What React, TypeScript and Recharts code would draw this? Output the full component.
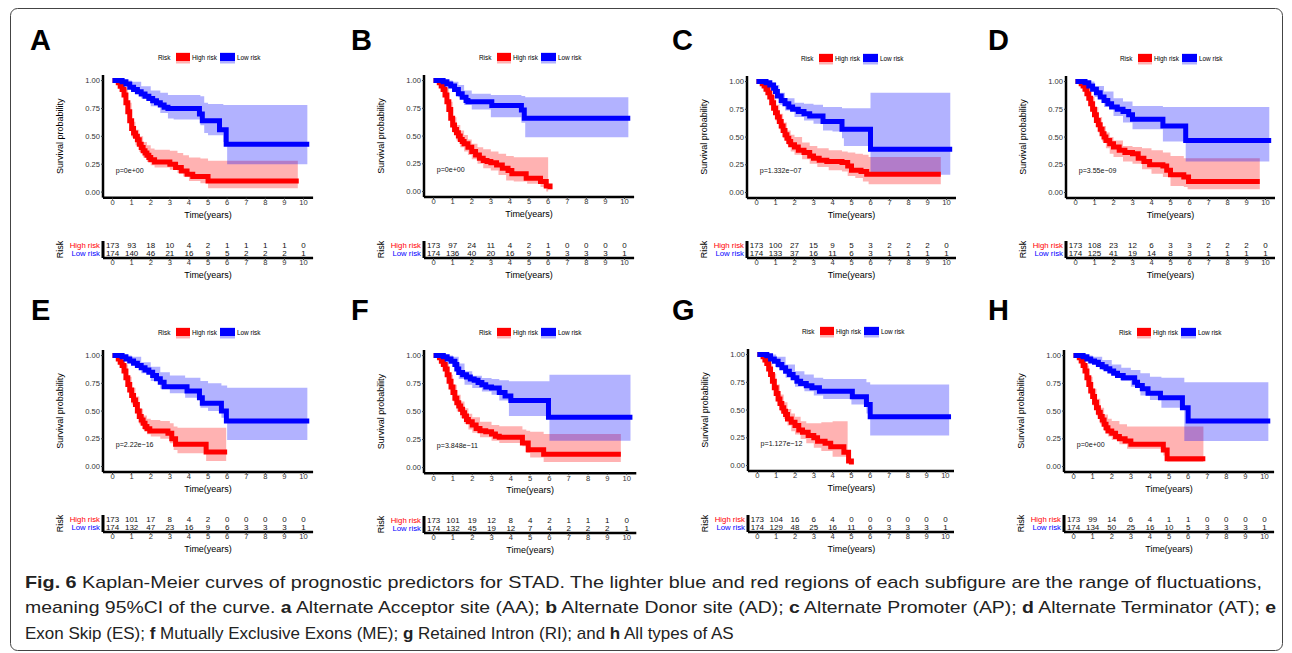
import React from 'react';
import { ComposedChart, Line, Area, XAxis, YAxis, Scatter, ReferenceDot } from 'recharts';

const years = [0, 1, 2, 3, 4, 5, 6, 7, 8, 9, 10];
const survTicks = [0, 0.25, 0.5, 0.75, 1];
const riskGroups = ['High risk', 'Low risk'];
const panelIds = ['A', 'B', 'C', 'D', 'E', 'F', 'G', 'H'];
const pValues = ['p=0e+00', 'p=0e+00', 'p=1.332e\u221207', 'p=3.55e\u221209', 'p=2.22e\u221216', 'p=3.848e\u221211', 'p=1.127e\u221212', 'p=0e+00'];

// survival curves: [time, survival]; bands: [time, lower, upper]
const aHigh = [[0,1],[0.2,1],[0.3,0.98],[0.4,0.95],[0.5,0.92],[0.6,0.87],[0.7,0.8],[0.8,0.72],[0.9,0.64],[1.0,0.57],[1.1,0.53],[1.2,0.5],[1.3,0.47],[1.4,0.43],[1.5,0.4],[1.6,0.37],[1.7,0.35],[1.8,0.33],[1.9,0.31],[2.0,0.29],[2.2,0.27],[3.0,0.25],[3.3,0.22],[3.6,0.19],[3.9,0.16],[4.2,0.14],[5.0,0.1],[9.75,0.1]];
const aHighCI = [[0,1,1],[0.2,0.98,1],[0.4,0.91,0.99],[0.6,0.82,0.93],[0.8,0.65,0.8],[1.0,0.49,0.63],[1.2,0.42,0.56],[1.4,0.36,0.5],[1.6,0.31,0.45],[1.8,0.27,0.42],[2.0,0.24,0.39],[2.2,0.22,0.38],[3.0,0.2,0.37],[3.4,0.17,0.35],[3.7,0.14,0.33],[4.0,0.1,0.31],[4.6,0.08,0.3],[5.0,0.035,0.28],[9.7,0.035,0.28]];
const aLow = [[0,1],[0.4,1],[0.5,0.99],[0.7,0.97],[0.9,0.94],[1.1,0.92],[1.3,0.9],[1.5,0.88],[1.7,0.86],[1.9,0.84],[2.1,0.82],[2.3,0.8],[2.5,0.78],[2.7,0.76],[2.9,0.75],[4.55,0.7],[4.7,0.64],[5.6,0.56],[5.95,0.43],[10.3,0.43]];
const aLowCI = [[0,1,1],[0.5,0.98,1],[1.0,0.9,0.99],[1.5,0.84,0.95],[2.0,0.77,0.91],[2.5,0.71,0.89],[2.9,0.66,0.87],[3.2,0.65,0.87],[4.6,0.6,0.86],[4.8,0.53,0.8],[5.0,0.51,0.79],[5.8,0.45,0.78],[6.0,0.25,0.78],[10.2,0.25,0.78]];
const aRiskHigh = [173, 93, 18, 10, 4, 2, 1, 1, 1, 1, 0];
const aRiskLow = [174, 140, 46, 21, 16, 9, 5, 2, 2, 2, 1];

const bHigh = [[0,1],[0.2,1],[0.3,0.98],[0.4,0.95],[0.5,0.92],[0.6,0.87],[0.7,0.81],[0.8,0.74],[0.9,0.66],[1.0,0.6],[1.1,0.56],[1.2,0.53],[1.3,0.5],[1.4,0.47],[1.5,0.45],[1.6,0.43],[1.8,0.4],[2.0,0.36],[2.2,0.33],[2.4,0.3],[2.6,0.28],[2.8,0.27],[3.0,0.26],[3.3,0.24],[3.6,0.21],[3.9,0.19],[4.1,0.16],[4.85,0.12],[5.6,0.09],[5.9,0.05],[6.1,0.02]];
const bHighCI = [[0,1,1],[0.2,0.98,1],[0.4,0.91,0.99],[0.6,0.82,0.93],[0.8,0.67,0.81],[1.0,0.53,0.67],[1.2,0.46,0.6],[1.4,0.4,0.55],[1.6,0.36,0.51],[1.8,0.33,0.47],[2.0,0.29,0.43],[2.3,0.25,0.4],[2.6,0.21,0.38],[3.0,0.19,0.36],[3.4,0.15,0.34],[3.8,0.1,0.32],[4.2,0.09,0.31],[4.9,0.07,0.31],[5.6,0.04,0.31],[5.9,0.0,0.31],[6.0,0.0,0.31]];
const bLow = [[0,1],[0.4,1],[0.5,0.99],[0.7,0.97],[0.9,0.95],[1.1,0.92],[1.3,0.88],[1.5,0.85],[1.7,0.82],[1.8,0.81],[3.05,0.775],[4.6,0.735],[4.75,0.66],[10.3,0.66]];
const bLowCI = [[0,1,1],[0.5,0.98,1],[1.0,0.91,0.99],[1.3,0.85,0.96],[1.6,0.78,0.91],[2.0,0.74,0.88],[3.0,0.67,0.87],[4.6,0.62,0.86],[4.8,0.49,0.85],[10.2,0.49,0.85]];
const bRiskHigh = [173, 97, 24, 11, 4, 2, 1, 0, 0, 0, 0];
const bRiskLow = [174, 136, 40, 20, 16, 9, 5, 3, 3, 3, 1];

const cHigh = [[0,1],[0.2,1],[0.3,0.98],[0.4,0.96],[0.5,0.93],[0.6,0.9],[0.7,0.86],[0.8,0.81],[0.9,0.76],[1.0,0.72],[1.1,0.68],[1.2,0.64],[1.3,0.6],[1.4,0.56],[1.5,0.52],[1.6,0.49],[1.7,0.46],[1.8,0.43],[2.0,0.41],[2.2,0.38],[2.5,0.36],[2.8,0.33],[3.0,0.31],[3.3,0.29],[3.7,0.28],[4.5,0.27],[4.8,0.24],[5.0,0.2],[5.5,0.19],[5.8,0.165],[9.7,0.165]];
const cHighCI = [[0,1,1],[0.2,0.98,1],[0.4,0.93,0.99],[0.6,0.86,0.95],[0.8,0.75,0.87],[1.0,0.65,0.79],[1.2,0.57,0.71],[1.4,0.49,0.63],[1.6,0.43,0.56],[1.8,0.37,0.52],[2.0,0.34,0.5],[2.4,0.3,0.45],[2.8,0.26,0.42],[3.2,0.23,0.4],[3.8,0.2,0.38],[4.5,0.19,0.37],[4.8,0.15,0.36],[5.2,0.13,0.35],[5.6,0.1,0.34],[5.9,0.075,0.32],[9.7,0.075,0.32]];
const cLow = [[0,1],[0.4,1],[0.5,0.99],[0.7,0.97],[0.9,0.94],[1.0,0.91],[1.1,0.87],[1.3,0.83],[1.5,0.8],[1.7,0.77],[1.9,0.75],[2.2,0.73],[2.5,0.71],[2.8,0.69],[3.5,0.64],[4.5,0.57],[6.0,0.39],[10.3,0.39]];
const cLowCI = [[0,1,1],[0.5,0.98,1],[0.8,0.93,0.99],[1.0,0.86,0.97],[1.2,0.79,0.9],[1.5,0.74,0.85],[2.0,0.68,0.81],[2.5,0.65,0.8],[3.0,0.62,0.79],[3.5,0.56,0.77],[4.0,0.55,0.77],[4.5,0.49,0.76],[4.6,0.42,0.76],[6.0,0.16,0.9],[10.2,0.16,0.9]];
const cRiskHigh = [173, 100, 27, 15, 9, 5, 3, 2, 2, 2, 0];
const cRiskLow = [174, 133, 37, 16, 11, 6, 3, 1, 1, 1, 1];

const dHigh = [[0,1],[0.2,1],[0.3,0.98],[0.4,0.96],[0.5,0.93],[0.6,0.89],[0.7,0.85],[0.8,0.8],[0.9,0.75],[1.0,0.7],[1.1,0.65],[1.2,0.61],[1.3,0.57],[1.4,0.53],[1.5,0.5],[1.6,0.47],[1.8,0.44],[2.0,0.41],[2.3,0.38],[2.6,0.36],[3.0,0.35],[3.3,0.31],[3.6,0.28],[3.9,0.25],[4.6,0.24],[4.8,0.2],[5.0,0.16],[5.7,0.14],[5.95,0.1],[9.7,0.1]];
const dHighCI = [[0,1,1],[0.2,0.98,1],[0.4,0.93,0.99],[0.6,0.85,0.94],[0.8,0.73,0.86],[1.0,0.63,0.77],[1.2,0.54,0.68],[1.4,0.46,0.6],[1.6,0.4,0.54],[1.8,0.35,0.5],[2.0,0.32,0.47],[2.5,0.28,0.42],[3.0,0.26,0.41],[3.5,0.21,0.4],[4.0,0.17,0.38],[4.6,0.14,0.36],[5.0,0.06,0.33],[5.7,0.05,0.31],[5.9,0.03,0.31],[9.7,0.03,0.31]];
const dLow = [[0,1],[0.4,1],[0.5,0.99],[0.7,0.96],[0.9,0.93],[1.1,0.9],[1.3,0.86],[1.5,0.83],[1.7,0.8],[1.9,0.77],[2.2,0.75],[2.5,0.73],[2.8,0.7],[3.0,0.66],[4.6,0.6],[5.8,0.47],[10.3,0.47]];
const dLowCI = [[0,1,1],[0.5,0.98,1],[1.0,0.86,0.96],[1.5,0.77,0.91],[2.0,0.69,0.85],[2.5,0.63,0.82],[3.0,0.57,0.78],[4.6,0.46,0.77],[5.8,0.28,0.77],[10.2,0.28,0.77]];
const dRiskHigh = [173, 108, 23, 12, 6, 3, 3, 2, 2, 2, 0];
const dRiskLow = [174, 125, 41, 19, 14, 8, 3, 1, 1, 1, 1];

const eHigh = [[0,1],[0.2,1],[0.3,0.97],[0.4,0.94],[0.5,0.91],[0.6,0.86],[0.7,0.8],[0.8,0.74],[0.9,0.69],[1.0,0.64],[1.1,0.6],[1.2,0.56],[1.3,0.5],[1.4,0.45],[1.5,0.42],[1.6,0.39],[1.7,0.36],[1.8,0.34],[1.95,0.32],[2.9,0.3],[3.1,0.25],[3.3,0.2],[4.9,0.13],[6.0,0.13]];
const eHighCI = [[0,1,1],[0.2,0.98,1],[0.4,0.9,0.98],[0.6,0.8,0.92],[0.8,0.67,0.81],[1.0,0.56,0.71],[1.2,0.48,0.63],[1.4,0.38,0.52],[1.6,0.33,0.46],[1.8,0.29,0.43],[2.0,0.27,0.42],[2.5,0.25,0.41],[3.0,0.21,0.39],[3.2,0.15,0.36],[3.4,0.12,0.35],[4.9,0.05,0.35],[5.95,0.05,0.35]];
const eLow = [[0,1],[0.4,1],[0.5,0.99],[0.7,0.97],[0.9,0.95],[1.1,0.93],[1.3,0.91],[1.5,0.89],[1.7,0.87],[1.9,0.85],[2.1,0.82],[2.3,0.79],[2.5,0.76],[2.7,0.72],[3.9,0.68],[4.55,0.62],[4.7,0.57],[5.7,0.5],[5.96,0.41],[10.3,0.41]];
const eLowCI = [[0,1,1],[0.5,0.98,1],[1.0,0.92,0.99],[1.5,0.84,0.94],[2.0,0.77,0.9],[2.5,0.7,0.85],[3.0,0.66,0.82],[3.8,0.62,0.8],[4.6,0.53,0.77],[5.0,0.5,0.75],[5.7,0.44,0.73],[6.0,0.24,0.71],[10.2,0.24,0.71]];
const eRiskHigh = [173, 101, 17, 8, 4, 2, 0, 0, 0, 0, 0];
const eRiskLow = [174, 132, 47, 23, 16, 9, 6, 3, 3, 3, 1];

const fHigh = [[0,1],[0.2,1],[0.3,0.98],[0.4,0.95],[0.5,0.92],[0.6,0.88],[0.7,0.83],[0.8,0.77],[0.9,0.72],[1.0,0.67],[1.1,0.62],[1.2,0.58],[1.3,0.55],[1.4,0.52],[1.5,0.49],[1.6,0.46],[1.7,0.43],[1.8,0.41],[2.0,0.38],[2.2,0.35],[2.4,0.33],[2.7,0.32],[3.0,0.3],[3.2,0.28],[3.4,0.27],[4.6,0.22],[4.9,0.16],[5.7,0.12],[9.7,0.12]];
const fHighCI = [[0,1,1],[0.2,0.98,1],[0.4,0.91,0.99],[0.6,0.83,0.93],[0.8,0.7,0.83],[1.0,0.59,0.74],[1.2,0.5,0.65],[1.4,0.44,0.59],[1.6,0.39,0.53],[1.8,0.34,0.48],[2.0,0.31,0.45],[2.4,0.27,0.41],[3.0,0.24,0.38],[3.4,0.22,0.37],[4.6,0.19,0.34],[4.8,0.13,0.33],[5.0,0.09,0.32],[5.7,0.05,0.3],[9.7,0.05,0.3]];
const fLow = [[0,1],[0.4,1],[0.5,0.99],[0.7,0.97],[0.9,0.95],[1.1,0.92],[1.2,0.88],[1.3,0.85],[1.5,0.83],[1.7,0.81],[1.9,0.79],[2.1,0.78],[2.3,0.76],[2.5,0.74],[2.7,0.72],[3.0,0.71],[3.4,0.67],[3.7,0.64],[4.0,0.6],[5.95,0.45],[10.3,0.45]];
const fLowCI = [[0,1,1],[0.5,0.98,1],[1.0,0.9,0.99],[1.3,0.79,0.93],[1.6,0.74,0.86],[2.0,0.71,0.82],[2.5,0.68,0.8],[3.0,0.65,0.79],[3.4,0.6,0.78],[3.9,0.46,0.77],[6.0,0.24,0.83],[10.2,0.24,0.83]];
const fRiskHigh = [173, 101, 19, 12, 8, 4, 2, 1, 1, 1, 0];
const fRiskLow = [174, 132, 45, 19, 12, 7, 4, 2, 2, 2, 1];

const gHigh = [[0,1],[0.2,1],[0.3,0.98],[0.4,0.95],[0.5,0.92],[0.6,0.87],[0.7,0.82],[0.8,0.76],[0.9,0.7],[1.0,0.65],[1.1,0.6],[1.2,0.56],[1.3,0.52],[1.4,0.49],[1.5,0.46],[1.6,0.42],[1.8,0.39],[2.0,0.36],[2.2,0.32],[2.4,0.3],[2.7,0.27],[3.0,0.25],[3.2,0.22],[3.6,0.2],[3.9,0.17],[4.6,0.12],[4.85,0.04],[5.0,0.01]];
const gHighCI = [[0,1,1],[0.2,0.98,1],[0.4,0.9,0.98],[0.6,0.81,0.92],[0.8,0.68,0.83],[1.0,0.58,0.73],[1.2,0.49,0.64],[1.4,0.42,0.57],[1.6,0.36,0.51],[1.8,0.31,0.47],[2.0,0.28,0.44],[2.3,0.24,0.4],[2.6,0.2,0.38],[3.0,0.16,0.38],[3.4,0.13,0.39],[4.0,0.08,0.4],[4.8,0.08,0.4]];
const gLow = [[0,1],[0.4,1],[0.5,0.99],[0.7,0.96],[0.9,0.94],[1.1,0.91],[1.3,0.88],[1.5,0.85],[1.7,0.82],[1.9,0.79],[2.1,0.76],[2.3,0.74],[2.6,0.72],[2.9,0.7],[3.3,0.67],[5.05,0.62],[5.8,0.55],[6.0,0.44],[10.3,0.44]];
const gLowCI = [[0,1,1],[0.5,0.98,1],[1.0,0.88,0.98],[1.5,0.79,0.91],[2.0,0.71,0.85],[2.5,0.67,0.82],[3.0,0.63,0.79],[3.5,0.6,0.78],[5.0,0.55,0.78],[5.8,0.47,0.75],[6.0,0.27,0.73],[10.2,0.27,0.73]];
const gRiskHigh = [173, 104, 16, 6, 4, 0, 0, 0, 0, 0, 0];
const gRiskLow = [174, 129, 48, 25, 16, 11, 6, 3, 3, 3, 1];

const hHigh = [[0,1],[0.2,1],[0.3,0.98],[0.4,0.95],[0.5,0.91],[0.6,0.86],[0.7,0.8],[0.8,0.74],[0.9,0.68],[1.0,0.63],[1.1,0.58],[1.2,0.53],[1.3,0.49],[1.4,0.45],[1.5,0.42],[1.6,0.38],[1.7,0.35],[1.8,0.32],[2.0,0.3],[2.2,0.27],[2.4,0.25],[2.7,0.23],[3.0,0.2],[4.7,0.15],[4.9,0.07],[6.9,0.07]];
const hHighCI = [[0,1,1],[0.2,0.98,1],[0.4,0.9,0.98],[0.6,0.8,0.91],[0.8,0.67,0.81],[1.0,0.55,0.7],[1.2,0.46,0.61],[1.4,0.38,0.53],[1.6,0.32,0.47],[1.8,0.27,0.43],[2.0,0.24,0.41],[2.4,0.2,0.38],[2.8,0.16,0.36],[4.7,0.1,0.36],[4.9,0.04,0.36],[6.8,0.04,0.36]];
const hLow = [[0,1],[0.4,1],[0.5,0.99],[0.7,0.97],[0.9,0.95],[1.1,0.94],[1.3,0.92],[1.5,0.9],[1.7,0.88],[1.9,0.86],[2.1,0.84],[2.3,0.82],[2.6,0.8],[3.2,0.76],[3.35,0.73],[3.6,0.7],[3.9,0.66],[4.55,0.62],[5.7,0.53],[6.0,0.41],[10.3,0.41]];
const hLowCI = [[0,1,1],[0.5,0.98,1],[1.0,0.93,0.99],[1.5,0.87,0.96],[2.0,0.82,0.92],[2.5,0.77,0.89],[3.0,0.72,0.87],[3.5,0.64,0.84],[4.0,0.6,0.81],[4.6,0.53,0.8],[5.8,0.23,0.76],[10.2,0.23,0.76]];
const hRiskHigh = [173, 99, 14, 6, 4, 1, 1, 0, 0, 0, 0];
const hRiskLow = [174, 134, 50, 25, 16, 10, 5, 3, 3, 3, 1];

const curves = [
  [aHigh, aHighCI, aLow, aLowCI, aRiskHigh, aRiskLow],
  [bHigh, bHighCI, bLow, bLowCI, bRiskHigh, bRiskLow],
  [cHigh, cHighCI, cLow, cLowCI, cRiskHigh, cRiskLow],
  [dHigh, dHighCI, dLow, dLowCI, dRiskHigh, dRiskLow],
  [eHigh, eHighCI, eLow, eLowCI, eRiskHigh, eRiskLow],
  [fHigh, fHighCI, fLow, fLowCI, fRiskHigh, fRiskLow],
  [gHigh, gHighCI, gLow, gLowCI, gRiskHigh, gRiskLow],
  [hHigh, hHighCI, hLow, hLowCI, hRiskHigh, hRiskLow],
];

// page positions of each panel (x of t=0 and t=10, y of S=1 and S=0, risk table axis, letter)
const layout = [
  { x0: 113, x10: 304, y1: 80.5, y0: 192, risk: 257.5, lx: 30, ly: 50 },
  { x0: 434, x10: 625, y1: 81, y0: 192, risk: 257.5, lx: 351, ly: 50 },
  { x0: 756, x10: 946, y1: 82, y0: 193, risk: 258, lx: 672, ly: 50 },
  { x0: 1075, x10: 1265, y1: 82, y0: 193, risk: 258, lx: 988, ly: 50 },
  { x0: 113, x10: 304, y1: 356, y0: 467, risk: 532, lx: 31, ly: 320 },
  { x0: 434, x10: 627, y1: 356, y0: 468, risk: 532.5, lx: 351, ly: 320 },
  { x0: 757, x10: 945, y1: 355, y0: 466, risk: 531.5, lx: 672, ly: 320 },
  { x0: 1074, x10: 1265, y1: 356, y0: 467, risk: 532, lx: 988, ly: 320 },
];

const RED = '#FF0000';
const BLUE = '#0000FF';
const toLine = (pts: number[][]) => pts.map(([t, s]) => ({ t, s }));
const toBand = (pts: number[][]) => pts.map(([t, lo, hi]) => ({ t, band: [lo, hi] }));
const toRisk = (hi: number[], lo: number[]) => [
  ...hi.map((n, i) => ({ t: years[i], row: 1, n })),
  ...lo.map((n, i) => ({ t: years[i], row: 0, n })),
];

const tickStyle = { fontSize: 7.6, fill: '#333' };
const axisLine = { stroke: '#000', strokeWidth: 2.5 };

const RiskTick = (props: any) => {
  const { x, y, payload } = props;
  const hi = payload.value === 1;
  return (
    <text x={x} y={y} dy="0.35em" textAnchor="end" fontSize={7.8} fill={hi ? RED : BLUE}>
      {hi ? riskGroups[0] : riskGroups[1]}
    </text>
  );
};

const RiskNumber = (props: any) => {
  const { cx, cy, payload } = props;
  return (
    <text x={cx} y={cy} dy="0.35em" textAnchor="middle" fontSize={8} fill="#111">
      {payload.n}
    </text>
  );
};

function Panel({ idx }: { idx: number }) {
  const g = layout[idx];
  const [hi, hiCI, lo, loCI, nHi, nLo] = curves[idx];
  const u = (g.x10 - g.x0) / 10;
  const v = g.y0 - g.y1;
  const YW = 48;
  const XH = 24;
  const left = g.x0 - 0.5 * u - YW;
  const W = 11 * u + YW;
  const top = g.y1 - 0.05 * v;
  const H = 1.1 * v + XH;
  const RP = 17;

  const xAxis = (
    <XAxis
      type="number"
      dataKey="t"
      domain={[-0.5, 10.5]}
      ticks={years}
      interval={0}
      height={XH}
      tickSize={2}
      tickMargin={0}
      tick={tickStyle}
      axisLine={axisLine}
      tickLine={{ stroke: '#333' }}
      label={{ value: 'Time(years)', position: 'insideBottom', offset: 4, fontSize: 9, fill: '#000' }}
    />
  );

  return (
    <>
      <svg style={{ position: 'absolute', left: g.lx, top: g.ly - 28, overflow: 'visible' }} width={40} height={32}>
        <text x={0} y={28} fontSize={29} fontWeight="bold" fill="#000">{panelIds[idx]}</text>
      </svg>
      <svg style={{ position: 'absolute', left: g.x0 + 40, top: g.y1 - 31, overflow: 'visible' }} width={130} height={16}>
        <text x={5} y={8} dy="0.35em" fontSize={6.4} fill="#000">Risk</text>
        <rect x={23} y={2.5} width={14} height={11} fill={RED} fillOpacity={0.3} />
        <rect x={23} y={3} width={14} height={8} fill={RED} />
        <text x={39} y={8} dy="0.35em" fontSize={6.4} fill="#000">{riskGroups[0]}</text>
        <rect x={67} y={2.5} width={15} height={11} fill={BLUE} fillOpacity={0.3} />
        <rect x={67} y={3} width={15} height={8} fill={BLUE} />
        <text x={84} y={8} dy="0.35em" fontSize={6.4} fill="#000">{riskGroups[1]}</text>
      </svg>
      <div style={{ position: 'absolute', left, top }}>
        <ComposedChart width={W} height={H} margin={{ top: 0, right: 0, bottom: 0, left: 0 }}>
          {xAxis}
          <YAxis
            type="number"
            domain={[-0.05, 1.05]}
            ticks={survTicks}
            interval={0}
            width={YW}
            tickSize={2}
            tickMargin={1}
            tick={tickStyle}
            tickFormatter={(val: number) => val.toFixed(2)}
            axisLine={axisLine}
            tickLine={{ stroke: '#333' }}
            label={{ value: 'Survival probability', angle: -90, position: 'insideLeft', offset: 5, fontSize: 9, fill: '#000', style: { textAnchor: 'middle' } }}
          />
          <Area data={toBand(hiCI)} dataKey="band" type="stepAfter" stroke="none" fill={RED} fillOpacity={0.3} isAnimationActive={false} />
          <Area data={toBand(loCI)} dataKey="band" type="stepAfter" stroke="none" fill={BLUE} fillOpacity={0.3} isAnimationActive={false} />
          <Line data={toLine(hi)} dataKey="s" type="stepAfter" stroke={RED} strokeWidth={5} dot={false} isAnimationActive={false} />
          <Line data={toLine(lo)} dataKey="s" type="stepAfter" stroke={BLUE} strokeWidth={5} dot={false} isAnimationActive={false} />
          <ReferenceDot
            x={-0.1}
            y={0.195}
            r={0.1}
            fill="none"
            stroke="none"
            label={{ value: pValues[idx], position: 'right', offset: 5, fontSize: 7.1, fill: '#111' }}
          />
        </ComposedChart>
      </div>
      <div style={{ position: 'absolute', left, top: g.risk - RP }}>
        <ComposedChart width={W} height={RP + XH} margin={{ top: 0, right: 0, bottom: 0, left: 0 }}>
          {xAxis}
          <YAxis
            type="number"
            dataKey="row"
            domain={[-0.55, 1.575]}
            ticks={[0, 1]}
            interval={0}
            width={YW}
            tickSize={0}
            tickMargin={3}
            tick={<RiskTick />}
            axisLine={{ stroke: '#000', strokeWidth: 3 }}
            tickLine={false}
            label={{ value: 'Risk', angle: -90, position: 'insideLeft', offset: 5, fontSize: 9, fill: '#000', style: { textAnchor: 'middle' } }}
          />
          <Scatter data={toRisk(nHi, nLo)} dataKey="row" shape={RiskNumber} isAnimationActive={false} />
        </ComposedChart>
      </div>
    </>
  );
}

export default function App() {
  return (
    <div
      style={{
        position: 'absolute',
        left: 0,
        top: 0,
        width: 1292,
        height: 653,
        background: '#fff',
        fontFamily: '"Liberation Sans", Arial, sans-serif',
        overflow: 'hidden',
      }}
    >
      <svg style={{ position: 'absolute', left: 0, top: 0 }} width={1292} height={653}>
        <rect x={10.5} y={8.5} width={1272} height={642} rx={7} fill="none" stroke="#444" strokeWidth={1} />
        <g fontSize={17} fill="#222">
          <text x={25} y={588} textLength={1237} lengthAdjust="spacingAndGlyphs">
            <tspan fontWeight="bold">Fig. 6</tspan> Kaplan-Meier curves of prognostic predictors for STAD. The lighter blue and red regions of each subfigure are the range of fluctuations,
          </text>
          <text x={25} y={613} textLength={1251} lengthAdjust="spacingAndGlyphs">
            meaning 95%CI of the curve. <tspan fontWeight="bold">a</tspan> Alternate Acceptor site (AA); <tspan fontWeight="bold">b</tspan> Alternate Donor site (AD); <tspan fontWeight="bold">c</tspan> Alternate Promoter (AP); <tspan fontWeight="bold">d</tspan> Alternate Terminator (AT); <tspan fontWeight="bold">e</tspan>
          </text>
          <text x={25} y={639}>
            Exon Skip (ES); <tspan fontWeight="bold">f</tspan> Mutually Exclusive Exons (ME); <tspan fontWeight="bold">g</tspan> Retained Intron (RI); and <tspan fontWeight="bold">h</tspan> All types of AS
          </text>
        </g>
      </svg>
      {panelIds.map((id, i) => (
        <Panel key={id} idx={i} />
      ))}
    </div>
  );
}
